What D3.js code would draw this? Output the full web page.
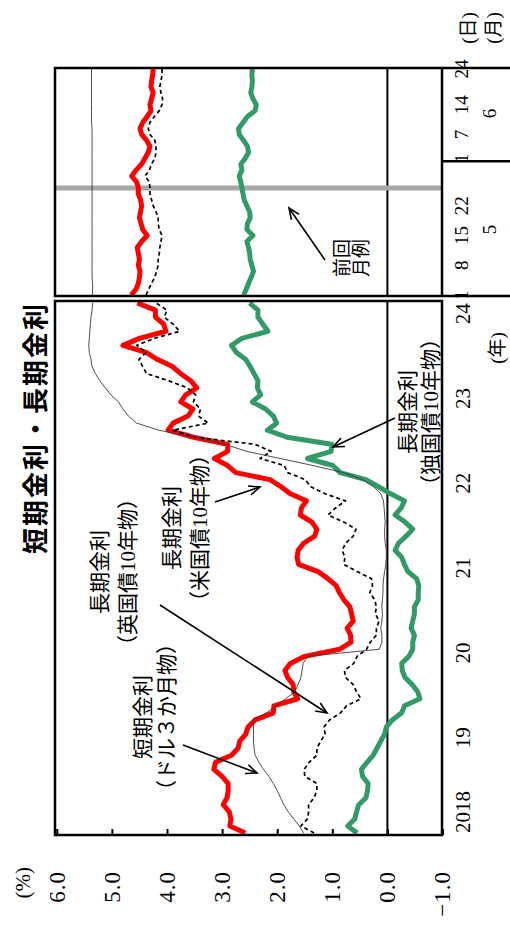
<!DOCTYPE html>
<html><head><meta charset="utf-8">
<script src="https://cdn.jsdelivr.net/npm/d3@7/dist/d3.min.js"></script>
<style>body{margin:0;background:#fff}svg{display:block}</style>
</head><body>
<svg id="c" width="510" height="928"></svg>
<script>
// ---------- data ----------
const months = d3.timeMonth.range(new Date(2018, 0, 1), new Date(2024, 4, 1)); // 2018/1 - 2024/4
const usLong = [
 2.58,2.86,2.84,2.87,2.98,2.91,2.89,2.89,3.00,3.15,3.12,2.83,
 2.71,2.68,2.57,2.53,2.40,2.07,2.06,1.63,1.70,1.71,1.81,1.86,
 1.76,1.50,0.87,0.66,0.67,0.73,0.62,0.65,0.68,0.79,0.87,0.93,
 1.08,1.26,1.61,1.64,1.62,1.52,1.32,1.28,1.37,1.58,1.56,1.47,
 1.76,1.93,2.13,2.75,2.90,3.14,2.90,2.90,3.52,3.98,3.89,3.62,
 3.53,3.75,3.66,3.46,3.57,3.75,3.90,4.17,4.38,4.80,4.50,4.02,
 4.06,4.21,4.21,4.54];
const ukLong = [
 1.33,1.57,1.45,1.43,1.43,1.33,1.28,1.28,1.50,1.51,1.42,1.28,
 1.28,1.21,1.13,1.15,1.05,0.85,0.74,0.48,0.56,0.62,0.76,0.78,
 0.61,0.55,0.38,0.31,0.20,0.20,0.15,0.22,0.20,0.23,0.32,0.27,
 0.29,0.55,0.79,0.77,0.82,0.76,0.62,0.57,0.79,1.08,0.94,0.76,
 1.13,1.39,1.49,1.81,1.87,2.31,2.11,2.40,3.49,3.90,3.25,3.43,
 3.39,3.52,3.48,3.63,3.97,4.37,4.44,4.51,4.38,4.55,4.23,3.77,
 3.89,4.05,4.00,4.20];
const deLong = [
 0.55,0.72,0.59,0.56,0.52,0.39,0.36,0.35,0.45,0.47,0.37,0.26,
 0.19,0.12,0.05,0.02,-0.09,-0.26,-0.31,-0.59,-0.55,-0.45,-0.32,-0.27,
 -0.26,-0.39,-0.46,-0.46,-0.49,-0.43,-0.46,-0.49,-0.49,-0.56,-0.56,-0.57,
 -0.53,-0.37,-0.31,-0.26,-0.14,-0.20,-0.34,-0.46,-0.32,-0.14,-0.25,-0.31,
 -0.06,0.16,0.39,0.86,0.99,1.45,1.02,1.01,1.82,2.18,2.01,2.07,
 2.21,2.45,2.30,2.36,2.35,2.42,2.49,2.57,2.74,2.83,2.64,2.17,
 2.26,2.35,2.35,2.50];
const usdShort = [
 1.52,1.60,1.70,1.80,1.88,1.94,2.00,2.07,2.15,2.25,2.33,2.40,
 2.42,2.43,2.43,2.43,2.43,2.20,2.00,1.85,1.68,1.62,1.57,1.55,
 1.53,1.45,0.15,0.10,0.10,0.12,0.10,0.09,0.10,0.09,0.08,0.08,
 0.07,0.05,0.03,0.02,0.02,0.04,0.05,0.05,0.04,0.05,0.06,0.07,
 0.12,0.25,0.45,0.80,1.35,1.95,2.55,2.95,3.50,4.15,4.55,4.70,
 4.80,4.88,5.02,5.12,5.22,5.30,5.36,5.38,5.41,5.42,5.41,5.40,
 5.39,5.38,5.36,5.35];

const dailyDates = ["5/1","5/2","5/3","5/6","5/7","5/8","5/9","5/10","5/13","5/14","5/15","5/16","5/17",
 "5/20","5/21","5/22","5/23","5/24","5/27","5/28","5/29","5/30","5/31",
 "6/3","6/4","6/5","6/6","6/7","6/10","6/11","6/12","6/13","6/14","6/17","6/18","6/19","6/20","6/21","6/24"];
const usLongDaily = [4.65,4.56,4.52,4.50,4.49,4.52,4.50,4.52,4.54,4.46,4.36,4.44,4.47,4.50,4.48,4.46,4.48,4.52,4.52,4.55,4.64,4.56,4.46,4.40,4.34,4.31,4.37,4.46,4.49,4.44,4.36,4.29,4.31,4.28,4.25,4.29,4.28,4.26,4.25];
const ukLongDaily = [4.38,4.33,4.28,4.22,4.19,4.16,4.16,4.14,4.13,4.11,4.09,4.14,4.16,4.16,4.20,4.25,4.28,4.31,4.31,4.32,4.40,4.32,4.28,4.22,4.20,4.20,4.22,4.31,4.34,4.31,4.23,4.14,4.09,4.08,4.11,4.13,4.11,4.09,4.09];
const deLongDaily = [2.61,2.56,2.52,2.47,2.43,2.46,2.49,2.50,2.52,2.55,2.44,2.55,2.54,2.49,2.50,2.55,2.60,2.62,2.64,2.66,2.69,2.64,2.66,2.58,2.52,2.54,2.61,2.69,2.70,2.62,2.54,2.40,2.38,2.44,2.48,2.46,2.45,2.46,2.45];
const usdShortDaily = [5.35,5.35,5.35,5.36,5.36,5.36,5.36,5.36,5.36,5.36,5.36,5.36,5.36,5.36,5.36,5.36,5.36,5.36,5.36,5.36,5.36,5.36,5.36,5.36,5.36,5.36,5.36,5.36,5.36,5.37,5.37,5.37,5.37,5.37,5.37,5.37,5.37,5.37,5.37];

const yearLabels = ["2018","19","20","21","22","23","24"];
const valueTicks = [-1,0,1,2,3,4,5,6];
const dayTickDates = ["5/1","5/8","5/15","5/22","6/3","6/7","6/14","6/24"];
const dayTickLabels = ["1","8","15","22","1","7","14","24"];
const monthLabels = ["5","6"];
const prevReportDate = "5/27";
const titleText = "短期金利・長期金利";

// ---------- layout (chart drawn landscape, then rotated) ----------
const W = 928;
const box = {left:93, right:627, top:55, bottom:442};
const rbox = {left:632, right:860, top:55, bottom:442};
const NUM = "'Liberation Serif','Noto Sans CJK JP',serif";
const JP = "'Liberation Serif','Noto Sans CJK JP',sans-serif";

const svg = d3.select("#c");
const g = svg.append("g").attr("transform", `translate(0,${W}) rotate(-90)`);

const xMain = d3.scaleLinear().domain([0, months.length - 1]).range([95, 625]);
const xDay = d3.scaleLinear().domain([0, dailyDates.length - 1]).range([633, 859]);
const y = d3.scaleLinear().domain([-1, 6]).range([442.5, 56.8]);

const defs = svg.append("defs");
defs.append("clipPath").attr("id","clipMain").append("rect")
  .attr("x",box.left).attr("y",box.top).attr("width",box.right-box.left).attr("height",box.bottom-box.top);
defs.append("clipPath").attr("id","clipRecent").append("rect")
  .attr("x",rbox.left).attr("y",rbox.top).attr("width",rbox.right-rbox.left).attr("height",rbox.bottom-rbox.top);

// zero lines
[[box.left, box.right],[rbox.left, rbox.right]].forEach(([a,b]) => {
  g.append("line").attr("x1",a).attr("x2",b).attr("y1",y(0)).attr("y2",y(0))
    .attr("stroke","#000").attr("stroke-width",2);
});

// previous-report marker
const pi = dailyDates.indexOf(prevReportDate);
g.append("line").attr("x1",xDay(pi)).attr("x2",xDay(pi)).attr("y1",rbox.top).attr("y2",rbox.bottom)
  .attr("stroke","#a6a6a6").attr("stroke-width",5);

// series
const series = [
  {main: usLong, daily: usLongDaily, color:"#ff0000", width:5, dash:null},
  {main: deLong, daily: deLongDaily, color:"#339966", width:5, dash:null},
  {main: ukLong, daily: ukLongDaily, color:"#000", width:1.7, dash:"4,3"},
  {main: usdShort, daily: usdShortDaily, color:"#3a3a3a", width:0.9, dash:null},
];
const lineMain = d3.line().x((d,i) => xMain(i)).y(d => y(d));
const lineDay = d3.line().x((d,i) => xDay(i)).y(d => y(d));
series.forEach(s => {
  g.append("path").attr("d", lineMain(s.main)).attr("clip-path","url(#clipMain)")
    .attr("fill","none").attr("stroke",s.color).attr("stroke-width",s.width)
    .attr("stroke-linejoin","round").attr("stroke-dasharray",s.dash);
  g.append("path").attr("d", lineDay(s.daily)).attr("clip-path","url(#clipRecent)")
    .attr("fill","none").attr("stroke",s.color).attr("stroke-width",s.width)
    .attr("stroke-linejoin","round").attr("stroke-dasharray",s.dash);
});

// value axis
const yAxis = d3.axisLeft(y).tickValues(valueTicks).tickSizeInner(-6).tickSizeOuter(0)
  .tickPadding(36).tickFormat(d3.format(".1f"));
const ax = g.append("g").attr("transform",`translate(${box.left},0)`).call(yAxis);
ax.select(".domain").remove();
ax.selectAll("line").attr("stroke","#000").attr("stroke-width",2);
ax.selectAll("text").attr("font-family",NUM).attr("font-size",23).attr("fill","#000").attr("letter-spacing",1);
g.append("text").attr("x",61).attr("y",23).attr("dy","0.35em").attr("text-anchor","end")
  .attr("font-family",JP).attr("font-size",21).text("(%)");

// borders
[box, rbox].forEach(b => {
  g.append("rect").attr("x",b.left).attr("y",b.top).attr("width",b.right-b.left).attr("height",b.bottom-b.top)
    .attr("fill","none").attr("stroke","#000").attr("stroke-width",2.5);
});
// separators below recent panel
const sepIdx = dailyDates.findIndex(d => d.startsWith("6/"));
[rbox.left, (xDay(sepIdx-1)+xDay(sepIdx))/2, rbox.right].forEach(x => {
  g.append("line").attr("x1",x).attr("x2",x).attr("y1",rbox.bottom).attr("y2",510)
    .attr("stroke","#000").attr("stroke-width",2.5);
});

// year labels
g.selectAll("text.year").data(yearLabels).join("text").attr("class","year")
  .attr("x",(d,i) => xMain(12*i)).attr("y",463).attr("dy","0.35em")
  .attr("text-anchor","start").attr("font-family",NUM).attr("font-size",21).text(d => d);
g.append("text").attr("x",580).attr("y",497).attr("dy","0.35em").attr("text-anchor","middle")
  .attr("font-family",JP).attr("font-size",19).text("(年)");

// day / month labels
g.selectAll("text.day").data(dayTickDates).join("text").attr("class","day")
  .attr("x",d => xDay(dailyDates.indexOf(d))).attr("y",461).attr("dy","0.35em")
  .attr("text-anchor","middle").attr("font-family",NUM).attr("font-size",19)
  .text((d,i) => dayTickLabels[i]);
g.selectAll("text.month").data(monthLabels).join("text").attr("class","month")
  .attr("x",m => {
    const idx = dailyDates.map((d,i)=>[d,i]).filter(([d]) => d.split("/")[0] === m).map(([,i])=>i);
    return (xDay(idx[0]) + xDay(idx[idx.length-1]))/2;
  })
  .attr("y",489).attr("dy","0.35em").attr("text-anchor","middle")
  .attr("font-family",NUM).attr("font-size",19).text(d => d);
g.append("text").attr("x",900).attr("y",468).attr("dy","0.35em").attr("text-anchor","middle")
  .attr("font-family",JP).attr("font-size",19).text("(日)");
g.append("text").attr("x",900).attr("y",493).attr("dy","0.35em").attr("text-anchor","middle")
  .attr("font-family",JP).attr("font-size",19).text("(月)");

// title
g.append("text").attr("x",500).attr("y",36).attr("dy","0.35em").attr("text-anchor","middle")
  .attr("font-family","'Noto Sans CJK JP',sans-serif").attr("font-weight","bold")
  .attr("font-size",26).attr("letter-spacing",2).text(titleText);

// annotations
const notes = [
  {lines:["長期金利","（英国債10年物）"], x:356, ys:[100,128], arrow:[323,160,215,327]},
  {lines:["長期金利","（米国債10年物）"], x:400, ys:[172,200], arrow:[426,215,441,260]},
  {lines:["短期金利","（ドル３か月物）"], x:211, ys:[143,167], arrow:[183,183,155,257]},
  {lines:["長期金利","（独国債10年物）"], x:516, ys:[408,431], arrow:[510,395,481,333]},
  {lines:["前回","月例"], x:670, ys:[342,361], arrow:[668,325,720,289], size:19},
];
notes.forEach(n => {
  n.lines.forEach((t,i) => {
    g.append("text").attr("x",n.x).attr("y",n.ys[i]).attr("dy","0.35em").attr("text-anchor","middle")
      .attr("font-family",JP).attr("font-size",n.size || 21).text(t);
  });
  const [x1,y1,x2,y2] = n.arrow;
  g.append("line").attr("x1",x1).attr("y1",y1).attr("x2",x2).attr("y2",y2)
    .attr("stroke","#000").attr("stroke-width",1.6);
  const a = Math.atan2(y2-y1, x2-x1), L = 12;
  const p = [[x2 - L*Math.cos(a-0.4), y2 - L*Math.sin(a-0.4)],[x2,y2],[x2 - L*Math.cos(a+0.4), y2 - L*Math.sin(a+0.4)]];
  g.append("polyline").attr("points", p.map(q => q.join(",")).join(" "))
    .attr("fill","none").attr("stroke","#000").attr("stroke-width",1.6);
});
</script>
</body></html>
